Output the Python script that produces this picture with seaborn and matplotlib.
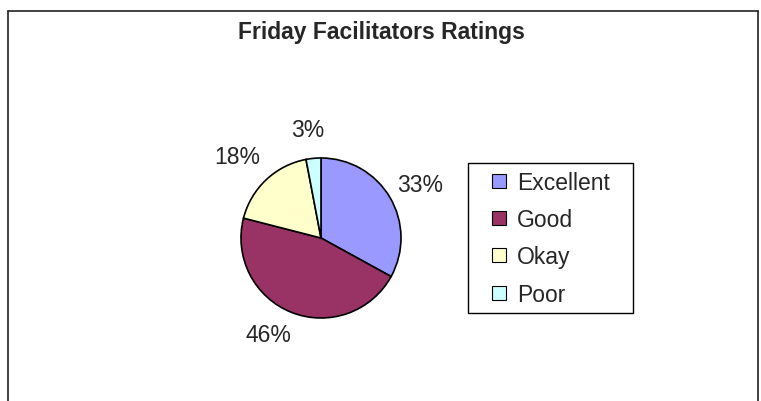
import numpy as np
import seaborn as sns
import matplotlib.pyplot as plt
from matplotlib.lines import Line2D
from matplotlib.patches import Rectangle

sns.set_style("white")
plt.rcParams['font.family'] = ['Liberation Sans', 'DejaVu Sans']

# data
categories = ['Excellent', 'Good', 'Okay', 'Poor']
ratings = [33, 46, 18, 3]
colors = ['#9999FF', '#993366', '#FFFFCC', '#CCFFFF']
# label placement (radius factor, angular shift in degrees)
label_dist = [1.41, 1.38, 1.46, 1.36]
label_shift = [-2, -7, 2.8, 1.5]

W, H = 761, 402
fig = plt.figure(figsize=(W / 100, H / 100), dpi=100)
fig.patch.set_facecolor('white')

# chart area border (open at the bottom)
bx0, bx1, by0 = 8 / W, 758 / W, 1 - 12 / H
for xs, ys in [([bx0, bx0], [-0.1, by0]), ([bx0, bx1], [by0, by0]), ([bx1, bx1], [by0, -0.1])]:
    fig.add_artist(Line2D(xs, ys, color='#222222', lw=1.2, transform=fig.transFigure))

fig.text(381 / W, 1 - 33 / H, 'Friday Facilitators Ratings', ha='center', va='center',
         fontsize=16.5, fontweight='bold')

# pie
cx, cy, r = 321, 239, 80
ax = fig.add_axes([(cx - r) / W, 1 - (cy + r) / H, 2 * r / W, 2 * r / H])
wedges, _ = ax.pie(ratings, colors=colors, startangle=90, counterclock=False,
                   wedgeprops=dict(edgecolor='black', linewidth=1.2))
ax.set_xlim(-1, 1)
ax.set_ylim(-1, 1)
ax.set_aspect('equal')
ax.axis('off')

for w, v, d, s in zip(wedges, ratings, label_dist, label_shift):
    ang = np.deg2rad((w.theta1 + w.theta2) / 2 + s)
    ax.text(d * np.cos(ang), d * np.sin(ang), f'{v}%', ha='center', va='center',
            fontsize=16.5, clip_on=False)

# legend (frame drawn separately, Excel style box)
lx0, ly0, lx1, ly1 = 468, 164, 633, 314
fig.add_artist(Rectangle((lx0 / W, 1 - ly1 / H), (lx1 - lx0) / W, (ly1 - ly0) / H,
                         transform=fig.transFigure, facecolor='white',
                         edgecolor='black', linewidth=1.0))
handles = [Line2D([], [], linestyle='none', marker='s', markersize=10.5,
                  markerfacecolor=c, markeredgecolor='black', markeredgewidth=0.8)
           for c in colors]
leg = fig.legend(handles, categories, loc='upper left',
                 bbox_to_anchor=(lx0 / W, 1 - ly0 / H), borderaxespad=0,
                 frameon=False, fontsize=16.5, handlelength=2.0,
                 handletextpad=-0.2, labelspacing=0.62, borderpad=0.35)
leg.set_zorder(5)

fig.savefig('out.png', dpi=100, facecolor='white')
